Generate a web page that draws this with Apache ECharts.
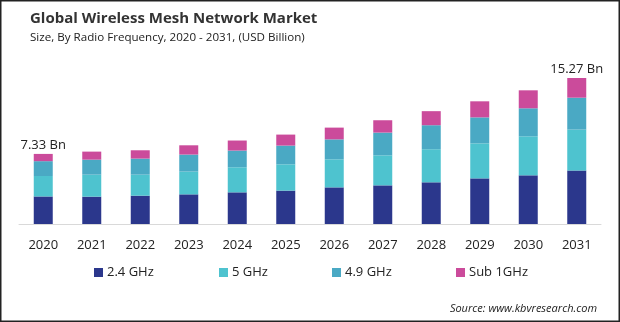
<!DOCTYPE html>
<html>
<head>
<meta charset="utf-8">
<script src="https://cdn.jsdelivr.net/npm/echarts@6/dist/echarts.min.js"></script>
<style>
  html, body { margin: 0; padding: 0; background: #fff; }
  #chart { width: 620px; height: 322px; }
</style>
</head>
<body>
<div id="chart"></div>
<script>
// Market size by radio frequency band, USD billion
const years = ['2020', '2021', '2022', '2023', '2024', '2025', '2026', '2027', '2028', '2029', '2030', '2031'];
const ghz24 = [2.88, 2.86, 2.96, 3.10, 3.31, 3.49, 3.83, 4.04, 4.36, 4.77, 5.09, 5.59];
const ghz5  = [2.14, 2.30, 2.20, 2.38, 2.62, 2.75, 2.93, 3.14, 3.46, 3.66, 4.08, 4.28];
const ghz49 = [1.55, 1.57, 1.68, 1.78, 1.75, 1.96, 2.09, 2.38, 2.51, 2.72, 2.93, 3.34];
const sub1  = [0.76, 0.84, 0.87, 0.97, 1.05, 1.15, 1.23, 1.29, 1.47, 1.68, 1.88, 2.06];
const seriesNames = ['2.4 GHz', '5 GHz', '4.9 GHz', 'Sub 1GHz'];
const totalLabels = { 0: '7.33 Bn', 11: '15.27 Bn' };

const colors = ['#2B378C', '#4EC3CF', '#4AA9C4', '#CB4B9B'];
const font = '"Open Sans", "DejaVu Sans", sans-serif';

const chart = echarts.init(document.getElementById('chart'));

function barSeries(name, data, idx) {
  const s = {
    name: name,
    type: 'bar',
    stack: 'total',
    data: data,
    barWidth: 19,
    itemStyle: { color: colors[idx] },
    emphasis: { disabled: true }
  };
  if (idx === 3) {
    s.label = {
      show: true,
      position: 'top',
      distance: 2,
      color: '#222',
      fontFamily: font,
      fontSize: 13,
      formatter: p => totalLabels[p.dataIndex] || ''
    };
  }
  return s;
}

const legendLefts = [89, 214, 327, 451];

chart.setOption({
  animation: false,
  backgroundColor: '#fff',
  title: [
    {
      text: 'Global Wireless Mesh Network Market',
      left: 25, top: 6,
      textStyle: { fontFamily: font, fontWeight: 'bold', fontSize: 15, color: '#333' }
    },
    {
      text: 'Size, By Radio Frequency, 2020 - 2031, (USD Billion)',
      left: 25, top: 27,
      textStyle: { fontFamily: font, fontWeight: 'normal', fontSize: 11.6, color: '#222' }
    },
    {
      text: 'Source: www.kbvresearch.com',
      right: 18, top: 298,
      textStyle: { fontFamily: font, fontStyle: 'italic', fontWeight: 'normal', fontSize: 11, color: '#222' }
    }
  ],
  legend: seriesNames.map((n, i) => ({
    data: [n],
    left: legendLefts[i],
    top: 261,
    itemWidth: 9,
    itemHeight: 9,
    itemGap: 4,
    icon: 'rect',
    selectedMode: false,
    textStyle: { fontFamily: font, fontSize: 13, color: '#222', padding: [0, 0, 0, -1] }
  })),
  grid: { left: 19, right: 19, top: 71, height: 153, containLabel: false },
  xAxis: {
    type: 'category',
    data: years,
    axisLine: { lineStyle: { color: '#d9d9d9', width: 1 } },
    axisTick: { show: false },
    axisLabel: { color: '#222', fontFamily: font, fontSize: 13, margin: 15 }
  },
  yAxis: {
    type: 'value',
    min: 0, max: 16,
    show: false
  },
  graphic: [{
    type: 'rect',
    shape: { x: 0, y: 0, width: 620, height: 322 },
    style: { fill: 'none', stroke: '#222', lineWidth: 3 },
    silent: true,
    z: 100
  }],
  series: [
    barSeries(seriesNames[0], ghz24, 0),
    barSeries(seriesNames[1], ghz5, 1),
    barSeries(seriesNames[2], ghz49, 2),
    barSeries(seriesNames[3], sub1, 3)
  ]
});
</script>
</body>
</html>
